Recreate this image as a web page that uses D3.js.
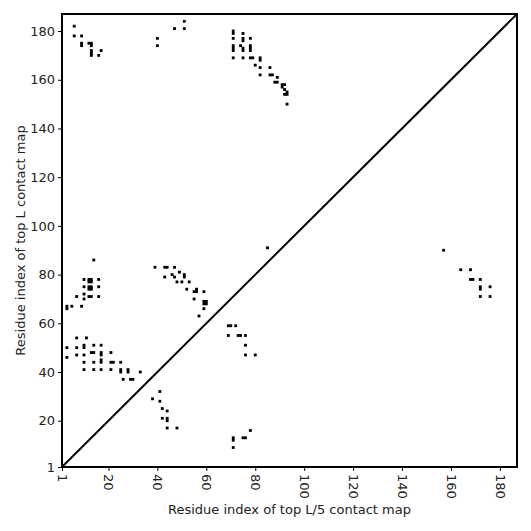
<!DOCTYPE html>
<html>
<head>
<meta charset="utf-8">
<script src="https://cdn.jsdelivr.net/npm/d3@7"></script>
<style>
  body { margin: 0; background: #fff; }
  text { font-family: "DejaVu Sans", sans-serif; }
</style>
</head>
<body>
<div class="chart"></div>
<script>
// residue range and tick labels
const domainMin = 1;
const domainMax = 187;
const tickValues = [1, 20, 40, 60, 80, 100, 120, 140, 160, 180];

// contacts above the diagonal (top L map): [i, j]
const topLContacts = [
  [6, 182], [6, 178], [9, 178], [9, 175], [9, 174], [12, 175], [13, 175], [13, 174],
  [13, 172], [13, 171], [13, 170], [16, 170], [17, 172], [40, 177], [40, 174],
  [47, 181], [51, 184], [51, 181],
  [71, 180], [71, 179], [75, 179], [71, 177], [75, 177], [75, 176], [78, 177],
  [71, 174], [71, 173], [71, 172], [74, 174], [75, 173], [75, 172], [78, 174],
  [78, 173], [78, 172], [71, 169], [75, 169], [78, 169], [79, 169], [82, 169],
  [82, 168], [80, 166], [82, 165], [86, 165], [82, 162], [86, 162], [87, 162],
  [89, 161], [88, 159], [89, 159], [91, 158], [92, 158], [91, 157], [92, 156],
  [93, 155], [93, 154], [92, 154], [93, 150],
  [85, 91],
  [39, 83], [43, 83], [44, 83], [47, 83], [43, 79], [46, 80], [47, 79], [49, 81],
  [51, 80], [51, 79], [48, 77], [50, 77], [53, 77], [52, 74], [55, 73], [56, 73],
  [56, 74], [59, 73], [55, 70], [59, 69], [60, 69], [59, 68], [60, 68], [59, 66],
  [57, 63],
  [14, 86], [10, 78], [12, 78], [13, 78], [12, 77], [13, 77], [16, 78], [10, 75],
  [12, 75], [13, 75], [12, 74], [13, 74], [16, 75], [7, 71], [10, 72], [10, 70],
  [12, 71], [13, 71], [16, 71], [3, 67], [3, 66], [5, 67], [9, 67],
  [7, 54], [11, 54], [3, 50], [7, 50], [10, 51], [10, 50], [14, 51], [17, 51],
  [3, 46], [7, 47], [10, 47], [13, 48], [14, 48], [17, 48], [17, 47], [21, 48],
  [10, 44], [14, 44], [17, 44], [17, 45], [21, 44], [22, 44], [25, 44],
  [10, 41], [14, 41], [17, 41], [21, 41], [25, 41], [25, 40], [28, 41], [28, 40],
  [33, 40], [26, 37], [29, 37], [30, 37]
];

// contacts below the diagonal (top L/5 map): [i, j]
const topL5Contacts = [
  [38, 29], [41, 32], [41, 28], [42, 25], [44, 24], [42, 21], [44, 21], [44, 20],
  [44, 17], [48, 17], [71, 13], [71, 12], [75, 13], [76, 13], [78, 16], [71, 9],
  [69, 59], [70, 59], [72, 59], [69, 55], [73, 55], [74, 55], [76, 55], [76, 51],
  [76, 47], [80, 47],
  [157, 90], [164, 82], [168, 82], [168, 78], [169, 78], [172, 78], [172, 75],
  [172, 74], [176, 75], [172, 71], [176, 71]
];

const w = 531;
const h = 531;
const margin = { top: 14, right: 14, bottom: 64, left: 62 };

const svg = d3.select(".chart").append("svg")
  .attr("width", w)
  .attr("height", h);

const xScale = d3.scaleLinear()
  .domain([domainMin, domainMax])
  .range([margin.left, w - margin.right]);

const yScale = d3.scaleLinear()
  .domain([domainMin, domainMax])
  .range([h - margin.bottom, margin.top]);

svg.append("clipPath").attr("id", "plot-clip")
  .append("rect")
  .attr("x", margin.left)
  .attr("y", margin.top)
  .attr("width", w - margin.left - margin.right)
  .attr("height", h - margin.top - margin.bottom);

const plot = svg.append("g").attr("clip-path", "url(#plot-clip)");

const half = 0.58;
const allContacts = topLContacts.concat(topL5Contacts);

plot.selectAll("rect.contact")
  .data(allContacts)
  .enter()
  .append("rect")
  .attr("class", "contact")
  .attr("x", (d) => xScale(d[0] - half))
  .attr("y", (d) => yScale(d[1] + half))
  .attr("width", (d) => xScale(d[0] + half) - xScale(d[0] - half))
  .attr("height", (d) => yScale(d[1] - half) - yScale(d[1] + half))
  .attr("fill", "#000");

// diagonal
plot.append("line")
  .attr("x1", xScale(domainMin))
  .attr("y1", yScale(domainMin))
  .attr("x2", xScale(domainMax))
  .attr("y2", yScale(domainMax))
  .attr("stroke", "#000")
  .attr("stroke-width", 2);

const xAxis = d3.axisBottom(xScale).tickValues(tickValues).tickSize(4).tickPadding(3);
const yAxis = d3.axisLeft(yScale).tickValues(tickValues).tickSize(4).tickPadding(3);

const gx = svg.append("g")
  .attr("id", "x-axis")
  .attr("transform", "translate(0," + (h - margin.bottom) + ")")
  .call(xAxis);
gx.select(".domain").remove();
gx.selectAll("text")
  .attr("font-size", "13px")
  .attr("fill", "#222")
  .attr("transform", "rotate(90)")
  .attr("x", 7)
  .attr("y", 0)
  .attr("dy", "0.35em")
  .style("text-anchor", "start");

const gy = svg.append("g")
  .attr("id", "y-axis")
  .attr("transform", "translate(" + margin.left + ",0)")
  .call(yAxis);
gy.select(".domain").remove();
gy.selectAll("text")
  .attr("font-size", "13px")
  .attr("fill", "#222");

svg.selectAll(".tick line").attr("stroke", "#000");

// frame
svg.append("rect")
  .attr("x", margin.left)
  .attr("y", margin.top)
  .attr("width", w - margin.left - margin.right)
  .attr("height", h - margin.top - margin.bottom)
  .attr("fill", "none")
  .attr("stroke", "#000")
  .attr("stroke-width", 2);

svg.append("text")
  .attr("x", (margin.left + w - margin.right) / 2)
  .attr("y", 514)
  .attr("text-anchor", "middle")
  .attr("font-size", "13px")
  .attr("fill", "#222")
  .text("Residue index of top L/5 contact map");

svg.append("text")
  .attr("transform", "translate(25," + (margin.top + h - margin.bottom) / 2 + ") rotate(-90)")
  .attr("text-anchor", "middle")
  .attr("font-size", "13px")
  .attr("fill", "#222")
  .text("Residue index of top L contact map");
</script>
</body>
</html>
